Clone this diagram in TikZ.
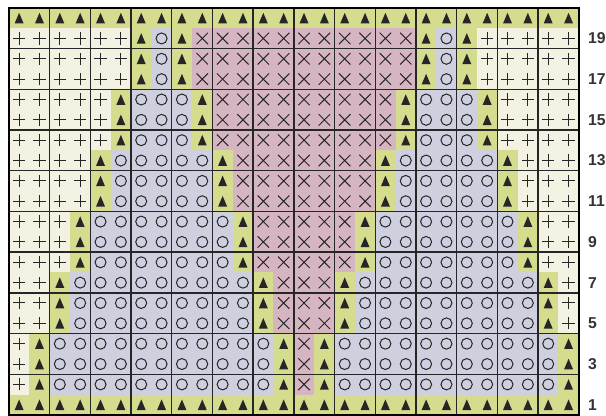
\documentclass[tikz,border=0pt]{standalone}
\usepackage{fontspec}
\setsansfont{Liberation Sans}
\definecolor{plusbg}{HTML}{F3F1E1}
\definecolor{tribg}{HTML}{D6DC8E}
\definecolor{ringbg}{HTML}{CFD0DF}
\definecolor{crossbg}{HTML}{D6B5C2}
\tikzset{sym/.style={line width=.7pt,black!85},lbl/.style={anchor=west,inner sep=0pt,font=\sffamily\bfseries\fontsize{11}{12}\selectfont,black!80}}
% one stitch: column #1, row #2
\newcommand\stP[2]{\fill[plusbg](#1-1,#2-1)rectangle(#1,#2);\draw[sym](#1-.5,#2-.8)--(#1-.5,#2-.2)(#1-.8,#2-.5)--(#1-.2,#2-.5);}
\newcommand\stO[2]{\fill[ringbg](#1-1,#2-1)rectangle(#1,#2);\draw[sym](#1-.5,#2-.5)circle(.27);}
\newcommand\stX[2]{\fill[crossbg](#1-1,#2-1)rectangle(#1,#2);\draw[sym](#1-.78,#2-.78)--(#1-.22,#2-.22)(#1-.78,#2-.22)--(#1-.22,#2-.78);}
\newcommand\stT[2]{\fill[tribg](#1-1,#2-1)rectangle(#1,#2);\fill[black!85](#1-.72,#2-.76)--(#1-.5,#2-.24)--(#1-.28,#2-.76)--cycle;}
\begin{document}
\begin{tikzpicture}[x=.5cm,y=.5cm]
\useasboundingbox(-.44,-.05)rectangle(29.34,20.39);
\foreach\r in{1,20}{\foreach\c in{1,...,28}{\stT{\c}{\r}}}
\foreach\ra/\rb/\runs in{17/19/{P/1/6,T/7/7,O/8/8,T/9/9,X/10/20,T/21/21,O/22/22,T/23/23,P/24/28},
 14/16/{P/1/5,T/6/6,O/7/9,T/10/10,X/11/19,T/20/20,O/21/23,T/24/24,P/25/28},
 11/13/{P/1/4,T/5/5,O/6/10,T/11/11,X/12/18,T/19/19,O/20/24,T/25/25,P/26/28},
 8/10/{P/1/3,T/4/4,O/5/11,T/12/12,X/13/17,T/18/18,O/19/25,T/26/26,P/27/28},
 5/7/{P/1/2,T/3/3,O/4/12,T/13/13,X/14/16,T/17/17,O/18/26,T/27/27,P/28/28},
 2/4/{P/1/1,T/2/2,O/3/13,T/14/14,X/15/15,T/16/16,O/17/27,T/28/28}}
 {\foreach\r in{\ra,...,\rb}{\foreach\sy/\ca/\cb in\runs{\foreach\c in{\ca,...,\cb}{\csname st\sy\endcsname{\c}{\r}}}}}
\draw[line width=.95pt,black!85](0,0)grid(28,20);\draw[line width=1.4pt](0,0)rectangle(28,20);
\foreach\n in{1,3,...,19}{\node[lbl](row\n)at(28.45,\n-.5){\n};}
\end{tikzpicture}
\end{document}
